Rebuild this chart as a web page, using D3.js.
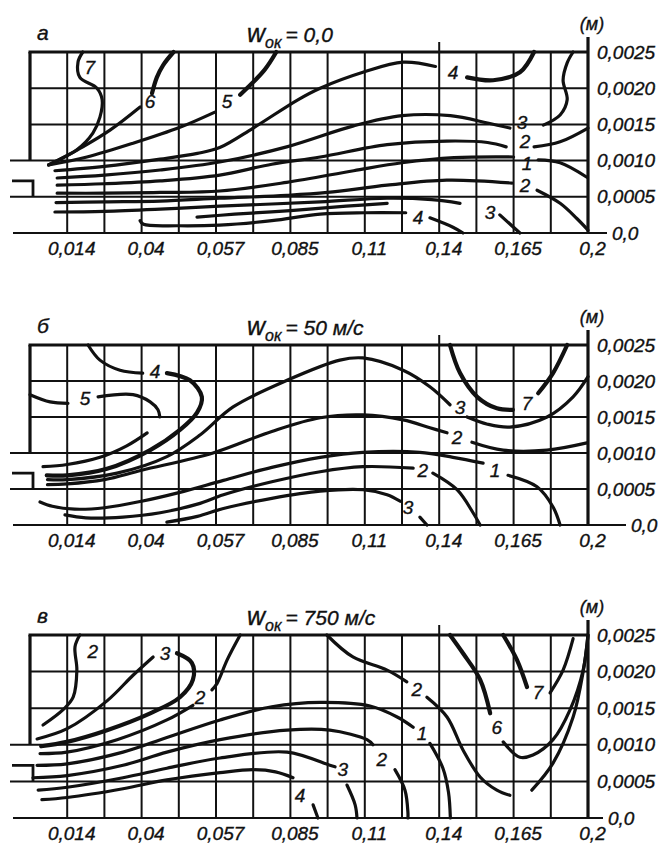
<!DOCTYPE html>
<html>
<head>
<meta charset="utf-8">
<script src="https://cdn.jsdelivr.net/npm/d3@7"></script>
<style>
  body { margin: 0; background: #fff; }
  text { font-family: "Liberation Sans", Arial, sans-serif; font-style: italic; fill: #111; stroke: #111; stroke-width: 0.35px; }
</style>
</head>
<body>
<div id="plot"></div>
<script>
    // x: grid columns 0..15, y: height in mm (0..2.5)
    const xTickCols = [1, 3, 5, 7, 9, 11, 13, 15];
    const xTickLabels = ["0,014", "0,04", "0,057", "0,085", "0,11", "0,14", "0,165", "0,2"];
    const yTickValues = [2.5, 2, 1.5, 1, 0.5, 0];
    const yTickLabels = ["0,0025", "0,0020", "0,0015", "0,0010", "0,0005", "0,0"];
    const panelLetters = ["а", "б", "в"];
    const panelSpeeds = ["= 0,0", "= 50 м/с", "= 750 м/с"];

    // panel a (w = 0)
    const curvesA = [
      [[1.42,2.5],[1.29,2.36],[1.34,2.15],[1.8,2.0],[1.94,1.84],[1.88,1.6],[1.69,1.38],[1.26,1.15],[0.5,0.94]],
      [[3.86,2.5],[3.58,2.32],[3.41,2.15],[3.28,1.93]],
      [[2.96,1.74],[2.15,1.42],[1.42,1.19],[0.5,0.94]],
      [[6.62,2.5],[6.3,2.25],[5.65,1.91]],
      [[4.97,1.67],[4.03,1.46],[2.77,1.24],[1.53,1.05],[0.5,0.94]],
      [[0.67,0.86],[2,0.92],[3.5,1.02],[4.5,1.1],[5.1,1.18],[6,1.45],[7.2,1.84],[7.8,2.0],[8.95,2.22],[10.03,2.36],[10.9,2.3]],
      [[11.75,2.15],[12.45,2.11],[13.17,2.22],[13.55,2.5]],
      [[0.73,0.76],[2,0.8],[3.5,0.87],[5.1,0.98],[6.9,1.19],[8.7,1.48],[10,1.62],[11.3,1.62],[12.3,1.52],[12.9,1.45]],
      [[13.8,1.49],[14.25,1.63],[14.44,1.84],[14.33,2.11],[14.44,2.35],[14.6,2.5]],
      [[0.73,0.66],[2,0.68],[3.5,0.72],[5.1,0.8],[6.5,0.95],[7.8,1.05],[9.6,1.22],[11.2,1.27],[12.3,1.25],[12.8,1.19]],
      [[13.55,1.19],[14.25,1.26],[15,1.45]],
      [[0.73,0.55],[2,0.55],[3.5,0.56],[5.1,0.58],[6.9,0.7],[8.7,0.86],[10,0.97],[11.4,1.04],[13,1.05]],
      [[13.66,1.01],[14.25,0.97],[14.97,0.77]],
      [[0.7,0.42],[2,0.43],[3.5,0.44],[5.1,0.48],[6.9,0.52],[8,0.56],[9.6,0.66],[11.2,0.73],[12.96,0.69]],
      [[13.63,0.59],[14.25,0.41],[14.7,0.2],[15,0.04]],
      [[0.67,0.29],[2,0.3],[3.5,0.33],[5.1,0.37],[7.8,0.43],[9.6,0.48],[10.8,0.46],[11.56,0.41]],
      [[12.63,0.25],[13.17,0]],
      [[4.49,0.22],[5.5,0.26],[7,0.31],[8.5,0.37],[9.6,0.41]],
      [[2.96,0.17],[3.05,0.12],[4,0.1],[5.1,0.11],[6.5,0.17],[7.8,0.26],[9,0.28],[10.1,0.28]],
      [[10.75,0.21],[11.37,0.08],[11.64,0]]
    ];
    const labelsA = [["7",1.61,2.29],["6",3.23,1.81],["5",5.3,1.81],["4",11.37,2.22],["3",13.23,1.53],
      ["2",13.31,1.27],["1",13.36,0.96],["2",13.31,0.66],["3",12.37,0.29],["4",10.43,0.21]];

    // panel b (w = 50 m/s)
    const curvesB = [
      [[0,1.81],[0.54,1.71],[1.02,1.69]],
      [[1.83,1.78],[2.77,1.81],[3.23,1.71],[3.44,1.6],[3.49,1.5]],
      [[1.56,2.5],[1.88,2.29],[2.42,2.15],[3.03,2.11]],
      [[3.68,2.11],[4.3,2.01],[4.62,1.78],[4.49,1.56],[4.03,1.32],[3.23,1.04],[2.07,0.78],[1,0.69],[0.45,0.69]],
      [[0.35,0.81],[1,0.84],[1.88,0.94],[2.6,1.1],[3.15,1.28]],
      [[0.47,0.63],[1,0.63],[2.34,0.72],[3.68,0.95],[4.57,1.25],[5.46,1.64],[6.91,2.01],[8.33,2.29],[8.95,2.32],[10.03,2.15],[10.75,1.92],[11.29,1.67]],
      [[11.75,1.5],[12.3,1.4],[12.9,1.36],[13.9,1.5],[14.6,1.78],[15,2.06]],
      [[0.47,0.56],[1,0.57],[2,0.63],[3,0.76],[4.92,1.0],[6.5,1.3],[7.8,1.49],[8.95,1.53],[10.03,1.46],[10.75,1.35],[11.21,1.28]],
      [[11.88,1.15],[12.72,1.04],[13.9,1.04],[14.97,1.14]],
      [[0.27,0.32],[0.6,0.26],[1.2,0.22],[2,0.24],[3,0.33],[4,0.45],[5.2,0.62],[6.5,0.8],[7.8,0.94],[8.95,1.01],[10.48,1.01],[11.37,0.94],[12.18,0.86]],
      [[12.85,0.69],[13.63,0.53],[14.06,0.25],[14.25,0]],
      [[0.94,0.14],[1.5,0.1],[2.5,0.11],[3.5,0.17],[4.5,0.29],[5.2,0.42],[6.5,0.6],[7.8,0.74],[8.95,0.81],[10.3,0.79]],
      [[10.83,0.72],[11.48,0.49],[11.91,0.17],[12.1,0]],
      [[3.68,0.04],[4.5,0.12],[5.2,0.23],[6.5,0.37],[7.8,0.47],[8.95,0.49],[9.6,0.42],[9.95,0.33]],
      [[10.48,0.11],[10.67,0]],
      [[11.29,2.5],[11.56,2.11],[12.02,1.78],[12.55,1.62],[12.98,1.6]],
      [[13.66,1.83],[14.06,2.11],[14.44,2.5]]
    ];
    const labelsB = [["5",1.48,1.76],["4",3.36,2.13],["3",11.56,1.63],["7",13.36,1.69],["2",11.48,1.22],
      ["1",12.5,0.76],["2",10.56,0.76],["3",10.16,0.25]];

    // panel c (w = 750 m/s)
    const curvesC = [
      [[1.34,2.5],[1.21,2.34],[1.26,2.02],[1.16,1.65],[0.89,1.48],[0.35,1.27]],
      [[0.19,1.08],[1,1.22],[2.07,1.6],[2.77,1.95],[3.31,2.2]],
      [[3.95,2.25],[4.35,2.12],[4.38,1.89],[4.03,1.65],[3.23,1.43],[2.07,1.2],[0.99,1.04],[0.3,0.98]],
      [[5.65,2.5],[5.3,2.16],[5.03,1.84],[4.89,1.75]],
      [[4.38,1.54],[3.68,1.34],[2.34,1.07],[0.99,0.9],[0.27,0.88]],
      [[0.19,0.72],[1,0.74],[2.5,0.9],[3.68,1.1],[5.11,1.34],[6.5,1.52],[7.8,1.58],[9.14,1.53],[9.87,1.38],[10.3,1.24]],
      [[10.75,1.02],[11.1,0.68],[11.25,0.35],[11.3,0]],
      [[0.08,0.55],[1,0.58],[2.5,0.72],[3.68,0.9],[5.11,1.07],[6.91,1.2],[8.06,1.2],[9.06,1.07],[9.22,1.0]],
      [[9.81,0.66],[10.08,0.38],[10.16,0.07],[10.16,0]],
      [[0.22,0.38],[1,0.42],[2.5,0.55],[3.68,0.68],[5.11,0.82],[6.91,0.9],[8.06,0.72],[8.2,0.7]],
      [[8.52,0.45],[8.74,0.18],[8.79,0]],
      [[0.32,0.25],[1,0.28],[2.5,0.4],[3.68,0.52],[5.11,0.62],[6,0.66],[6.6,0.63],[7.07,0.55]],
      [[7.61,0.18],[7.74,0]],
      [[7.98,2.5],[8.68,2.2],[9.6,2.02],[10.13,1.86]],
      [[10.67,1.65],[11.21,1.38],[11.64,0.93],[12.1,0.56],[12.55,0.38],[12.9,0.31]],
      [[11.29,2.5],[11.64,2.25],[12.1,1.89],[12.37,1.43]],
      [[12.72,1.04],[13.17,0.83],[13.52,0.86],[14.06,1.07],[14.52,1.48],[14.87,2.02],[15,2.5]],
      [[12.72,2.5],[13.09,2.16],[13.36,1.79]],
      [[13.98,1.71],[14.33,2.02],[14.6,2.45]],
      [[13.49,0.38],[14.06,0.75],[14.6,1.38],[14.87,2.0],[15,2.5]]
    ];
    const labelsC = [["2",1.69,2.27],["3",3.63,2.25],["2",4.57,1.64],["2",10.4,1.75],["1",10.54,1.15],
      ["2",9.46,0.8],["3",8.41,0.66],["4",7.26,0.31],["6",12.55,1.24],["7",13.66,1.72]];

    // heavier pen strokes (index into each panel's curves)
    const thickCurves = [[1, 3, 6], [3, 15, 16], [2, 15, 17]];

    const layout = [
      { top: 52, bottom: 233, ext: 607, curves: curvesA, labels: labelsA },
      { top: 345, bottom: 525, ext: 626, curves: curvesB, labels: labelsB },
      { top: 635, bottom: 818, ext: 603, curves: curvesC, labels: labelsC }
    ];

    const ink = "#111";

    const svg = d3.select("div#plot")
      .append("svg")
        .attr("width", 665)
        .attr("height", 847);

    const xScale = d3.scaleLinear()
      .domain([0, 15])
      .range([30, 588]);

    layout.forEach((p, i) => {
      const yScale = d3.scaleLinear()
        .domain([0, 2.5])
        .range([p.bottom, p.top]);

      const g = svg.append("g");

      // vertical grid
      g.selectAll(".vgrid")
        .data(d3.range(1, 15))
        .enter()
        .append("line")
          .attr("x1", d => xScale(d))
          .attr("x2", d => xScale(d))
          .attr("y1", d => d === 11 ? yScale(2.5) - 10 : yScale(2.5))
          .attr("y2", yScale(0))
          .attr("stroke", ink)
          .attr("stroke-width", 2);

      // horizontal grid
      g.selectAll(".hgrid")
        .data([2, 1.5, 1, 0.5])
        .enter()
        .append("line")
          .attr("x1", d => d <= 1 ? 10 : xScale(0))
          .attr("x2", xScale(15))
          .attr("y1", d => yScale(d))
          .attr("y2", d => yScale(d))
          .attr("stroke", ink)
          .attr("stroke-width", 2);

      // bottom line
      g.append("line")
        .attr("x1", 13).attr("x2", p.ext)
        .attr("y1", yScale(0)).attr("y2", yScale(0))
        .attr("stroke", ink).attr("stroke-width", 2);

      // top border
      g.append("line")
        .attr("x1", xScale(0) - 1.5).attr("x2", xScale(15))
        .attr("y1", yScale(2.5)).attr("y2", yScale(2.5))
        .attr("stroke", ink).attr("stroke-width", 3.2);

      // left wall down to the nozzle
      g.append("line")
        .attr("x1", xScale(0)).attr("x2", xScale(0))
        .attr("y1", yScale(2.5)).attr("y2", yScale(1))
        .attr("stroke", ink).attr("stroke-width", 3.2);

      // right axis
      g.append("line")
        .attr("x1", xScale(15)).attr("x2", xScale(15))
        .attr("y1", yScale(2.5) - 15).attr("y2", yScale(0))
        .attr("stroke", ink).attr("stroke-width", 3.2);

      // nozzle bracket
      g.append("path")
        .attr("d", `M12,${yScale(0.72)}H33V${yScale(0.5)}`)
        .attr("fill", "none")
        .attr("stroke", ink)
        .attr("stroke-width", 2.8);

      // contour curves
      const line = d3.line()
        .x(d => xScale(d[0]))
        .y(d => yScale(d[1]))
        .curve(d3.curveCatmullRom.alpha(0.5));

      g.selectAll(".curve")
        .data(p.curves)
        .enter()
        .append("path")
          .attr("class", "curve")
          .attr("d", line)
          .attr("fill", "none")
          .attr("stroke", ink)
          .attr("stroke-width", (d, k) => thickCurves[i].includes(k) ? 4.2 : 3.2)
          .attr("stroke-linecap", "round")
          .attr("stroke-linejoin", "round");

      g.selectAll(".clabel")
        .data(p.labels)
        .enter()
        .append("text")
          .attr("x", d => xScale(d[1]))
          .attr("y", d => yScale(d[2]))
          .attr("text-anchor", "middle")
          .attr("dominant-baseline", "central")
          .style("font-size", "19px")
          .text(d => d[0]);

      // x axis labels
      const xAxis = d3.axisBottom(xScale)
        .tickValues(xTickCols)
        .tickFormat((d, k) => xTickLabels[k])
        .tickSize(0)
        .tickPadding(9);

      const gx = svg.append("g")
        .attr("transform", `translate(4, ${yScale(0)})`)
        .call(xAxis);
      gx.select(".domain").remove();
      gx.selectAll("text")
        .style("font-size", "19px")
        .style("font-family", "\"Liberation Sans\", Arial, sans-serif");

      // y axis labels (right)
      const yAxis = d3.axisRight(yScale)
        .tickValues(yTickValues)
        .tickFormat((d, k) => yTickLabels[k])
        .tickSize(0)
        .tickPadding(9);

      const gy = svg.append("g")
        .attr("transform", `translate(${xScale(15)}, 0)`)
        .call(yAxis);
      gy.select(".domain").remove();
      gy.selectAll("text")
        .style("font-size", "19px")
        .style("font-family", "\"Liberation Sans\", Arial, sans-serif");
      gy.selectAll(".tick")
        .filter(d => d === 0)
        .select("text")
          .attr("x", p.ext - xScale(15) + 5);

      svg.append("text")
        .attr("x", 592)
        .attr("y", p.top - 22)
        .attr("text-anchor", "middle")
        .style("font-size", "18px")
        .text("(м)");

      // panel letter
      svg.append("text")
        .attr("x", 37)
        .attr("y", p.top - 12)
        .style("font-size", "21px")
        .text(panelLetters[i]);

      // title
      const title = svg.append("text")
        .attr("x", 247)
        .attr("y", p.top - 10)
        .style("font-size", "21px");
      title.append("tspan").style("font-size", "25px").text("w");
      title.append("tspan").attr("dy", 6).style("font-size", "16px").text("ок");
      title.append("tspan").attr("dy", -6).attr("dx", 4).text(panelSpeeds[i]);
    });
</script>
</body>
</html>
